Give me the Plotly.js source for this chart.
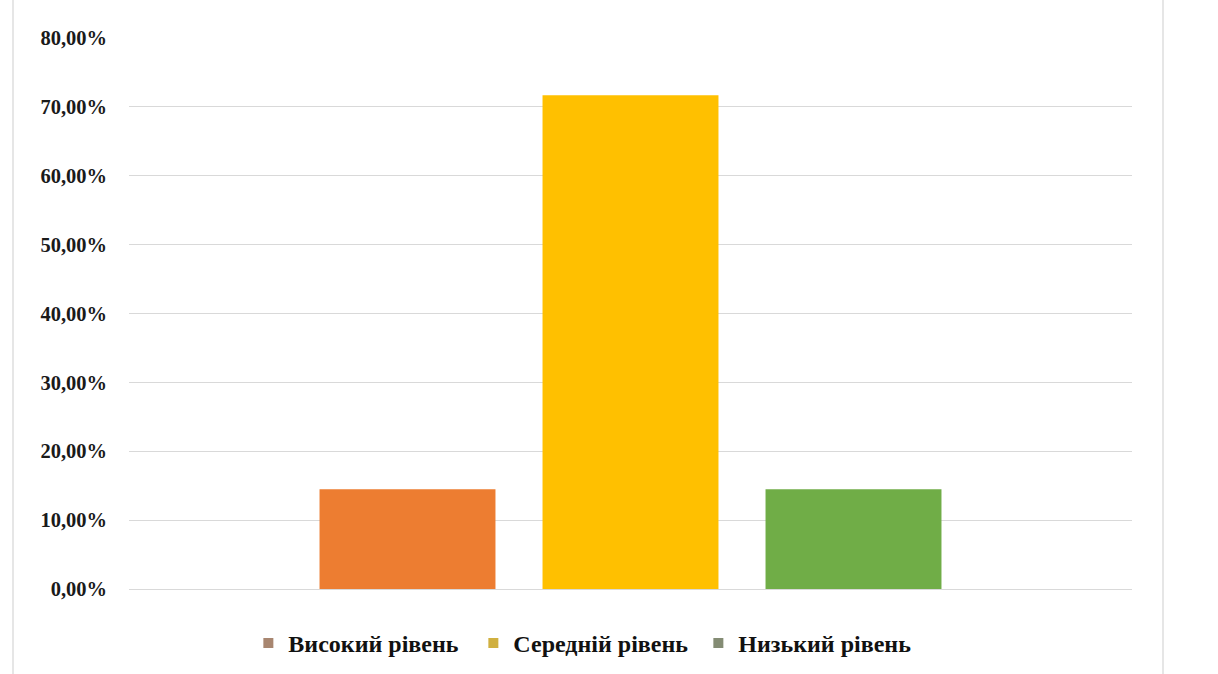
<!DOCTYPE html>
<html>
<head>
<meta charset="utf-8">
<script src="https://cdn.plot.ly/plotly-3.0.1.min.js"></script>
<style>
  html, body { margin: 0; padding: 0; background: #ffffff; }
  #frame { position: absolute; left: 12px; top: -5px; width: 1152px; height: 690px; border: 2px solid #e6e6e6; box-sizing: border-box; pointer-events: none; }
  #chart { position: absolute; left: 0; top: 0; width: 1218px; height: 674px; }
</style>
</head>
<body>
<div id="chart"></div>
<div id="frame"></div>
<script>
const category = [""];
const seriesNames = ["Високий рівень", "Середній рівень", "Низький рівень"];
const highLevel = [0.145];
const midLevel = [0.717];
const lowLevel = [0.145];
const barColors = ["#ED7D31", "#FFC000", "#70AD47"];
const legendColors = ["#a88670", "#d0b040", "#848c74"];

const values = [highLevel, midLevel, lowLevel];
const traces = [];
values.forEach((v, i) => {
  traces.push({
    type: "bar",
    x: category,
    y: v,
    name: seriesNames[i],
    marker: { color: barColors[i] },
    showlegend: false,
    hoverinfo: "y"
  });
});
values.forEach((v, i) => {
  traces.push({
    type: "scatter",
    mode: "markers",
    x: [null],
    y: [null],
    name: seriesNames[i],
    marker: { symbol: "square", size: 10, color: legendColors[i] },
    showlegend: true
  });
});

const layout = {
  width: 1218,
  height: 674,
  margin: { l: 129, r: 86, t: 38, b: 85, autoexpand: false },
  paper_bgcolor: "#ffffff",
  plot_bgcolor: "#ffffff",
  separators: ", ",
  barmode: "group",
  bargap: 0.333,
  bargroupgap: 0.211,
  xaxis: {
    showticklabels: false,
    showgrid: false,
    zeroline: false,
    showline: false,
    ticks: ""
  },
  yaxis: {
    range: [0, 0.8],
    dtick: 0.1,
    tickformat: ".2%",
    showgrid: true,
    gridcolor: "#d9d9d9",
    gridwidth: 1,
    zeroline: true,
    zerolinecolor: "#d9d9d9",
    zerolinewidth: 1,
    showline: false,
    ticks: "",
    ticklabelstandoff: 21,
    tickfont: { family: "Liberation Serif", size: 20.5, color: "#1a1a1a", weight: "bold" }
  },
  legend: {
    orientation: "h",
    x: 0.119,
    xanchor: "left",
    y: -0.058,
    yanchor: "top",
    font: { family: "Liberation Serif", size: 24, color: "#111111", weight: "bold" },
    itemwidth: 30,
    entrywidth: 180,
    entrywidthmode: "pixels",
    tracegroupgap: 0,
    bgcolor: "rgba(0,0,0,0)"
  },
  showlegend: true
};

Plotly.newPlot("chart", traces, layout, { displayModeBar: false, staticPlot: true });
</script>
</body>
</html>
